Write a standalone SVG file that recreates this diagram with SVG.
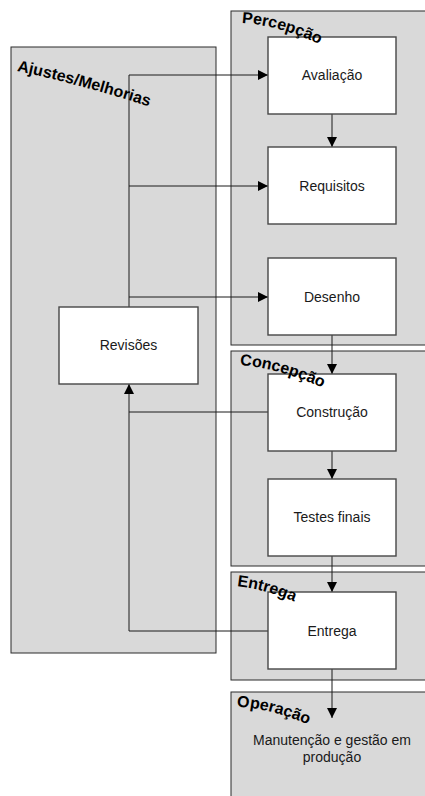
<svg xmlns="http://www.w3.org/2000/svg" xmlns:xlink="http://www.w3.org/1999/xlink" width="425" height="796" viewBox="0 0 425 796">
  <style>
    .zone { fill: #d9d9d9; stroke: #2b2b2b; stroke-width: 1; }
    .box { fill: #ffffff; stroke: #474747; stroke-width: 1.4; }
    .label { font-family: "Liberation Sans", Arial, sans-serif; font-size: 14px; fill: #1a1a1a; text-anchor: middle; }
    .zlabel { font-family: "Liberation Sans", Arial, sans-serif; font-size: 16px; font-weight: bold; fill: #000000; }
    .conn { fill: none; stroke: #1a1a1a; stroke-width: 1; }
  </style>
  <defs>
    <marker id="arrow" markerUnits="userSpaceOnUse" markerWidth="10" markerHeight="10" refX="10" refY="5" orient="auto">
      <path d="M0,0 L10,5 L0,10 z" fill="#000000"/>
    </marker>
    <path id="p-ajustes" d="M17,71 Q80,84 160,110"/>
    <path id="p-percepcao" d="M242,23 Q280,25 328,48"/>
    <path id="p-concepcao" d="M240,365 Q280,368 330,391"/>
    <path id="p-entrega" d="M237,586 Q266,589 302,605"/>
    <path id="p-operacao" d="M237,707 Q271,708 314,727"/>
  </defs>

  <!-- phase zones -->
  <g id="zone-ajustes"><rect class="zone" x="11" y="47" width="205" height="606"/></g>
  <g id="zone-percepcao"><rect class="zone" x="231" y="11" width="200" height="334"/></g>
  <g id="zone-concepcao"><rect class="zone" x="231" y="351" width="200" height="215"/></g>
  <g id="zone-entrega"><rect class="zone" x="231" y="572" width="200" height="108"/></g>
  <g id="zone-operacao">
    <rect class="zone" x="231" y="692" width="200" height="110"/>
    <text class="label" x="332" y="745">Manutenção e gestão em</text>
    <text class="label" x="332" y="762">produção</text>
  </g>

  <!-- connectors -->
  <g id="connectors">
    <path class="conn" d="M129,307 V75 H268" marker-end="url(#arrow)"/>
    <path class="conn" d="M129,186 H268" marker-end="url(#arrow)"/>
    <path class="conn" d="M129,297 H268" marker-end="url(#arrow)"/>
    <path class="conn" d="M332,114 V147" marker-end="url(#arrow)"/>
    <path class="conn" d="M332,335 V374" marker-end="url(#arrow)"/>
    <path class="conn" d="M332,451 V479" marker-end="url(#arrow)"/>
    <path class="conn" d="M332,556 V592" marker-end="url(#arrow)"/>
    <path class="conn" d="M332,669 V718" marker-end="url(#arrow)"/>
    <path class="conn" d="M268,412 H129"/>
    <path class="conn" d="M268,631 H129 V384" marker-end="url(#arrow)"/>
  </g>

  <!-- process steps -->
  <g id="avaliacao"><rect class="box" x="268" y="37" width="128" height="77"/><text class="label" x="332" y="80">Avaliação</text></g>
  <g id="requisitos"><rect class="box" x="268" y="147" width="128" height="77"/><text class="label" x="332" y="191">Requisitos</text></g>
  <g id="desenho"><rect class="box" x="268" y="258" width="128" height="77"/><text class="label" x="332" y="302">Desenho</text></g>
  <g id="construcao"><rect class="box" x="268" y="374" width="128" height="77"/><text class="label" x="332" y="417">Construção</text></g>
  <g id="testes"><rect class="box" x="268" y="479" width="128" height="77"/><text class="label" x="332" y="522">Testes finais</text></g>
  <g id="entrega"><rect class="box" x="268" y="592" width="128" height="77"/><text class="label" x="332" y="636">Entrega</text></g>
  <g id="revisoes"><rect class="box" x="59" y="307" width="139" height="77"/><text class="label" x="128.5" y="350">Revisões</text></g>

  <!-- zone titles -->
  <g id="zone-titles">
    <text class="zlabel"><textPath xlink:href="#p-ajustes">Ajustes/Melhorias</textPath></text>
    <text class="zlabel"><textPath xlink:href="#p-percepcao">Percepção</textPath></text>
    <text class="zlabel"><textPath xlink:href="#p-concepcao">Concepção</textPath></text>
    <text class="zlabel"><textPath xlink:href="#p-entrega">Entrega</textPath></text>
    <text class="zlabel"><textPath xlink:href="#p-operacao">Operação</textPath></text>
  </g>
</svg>
